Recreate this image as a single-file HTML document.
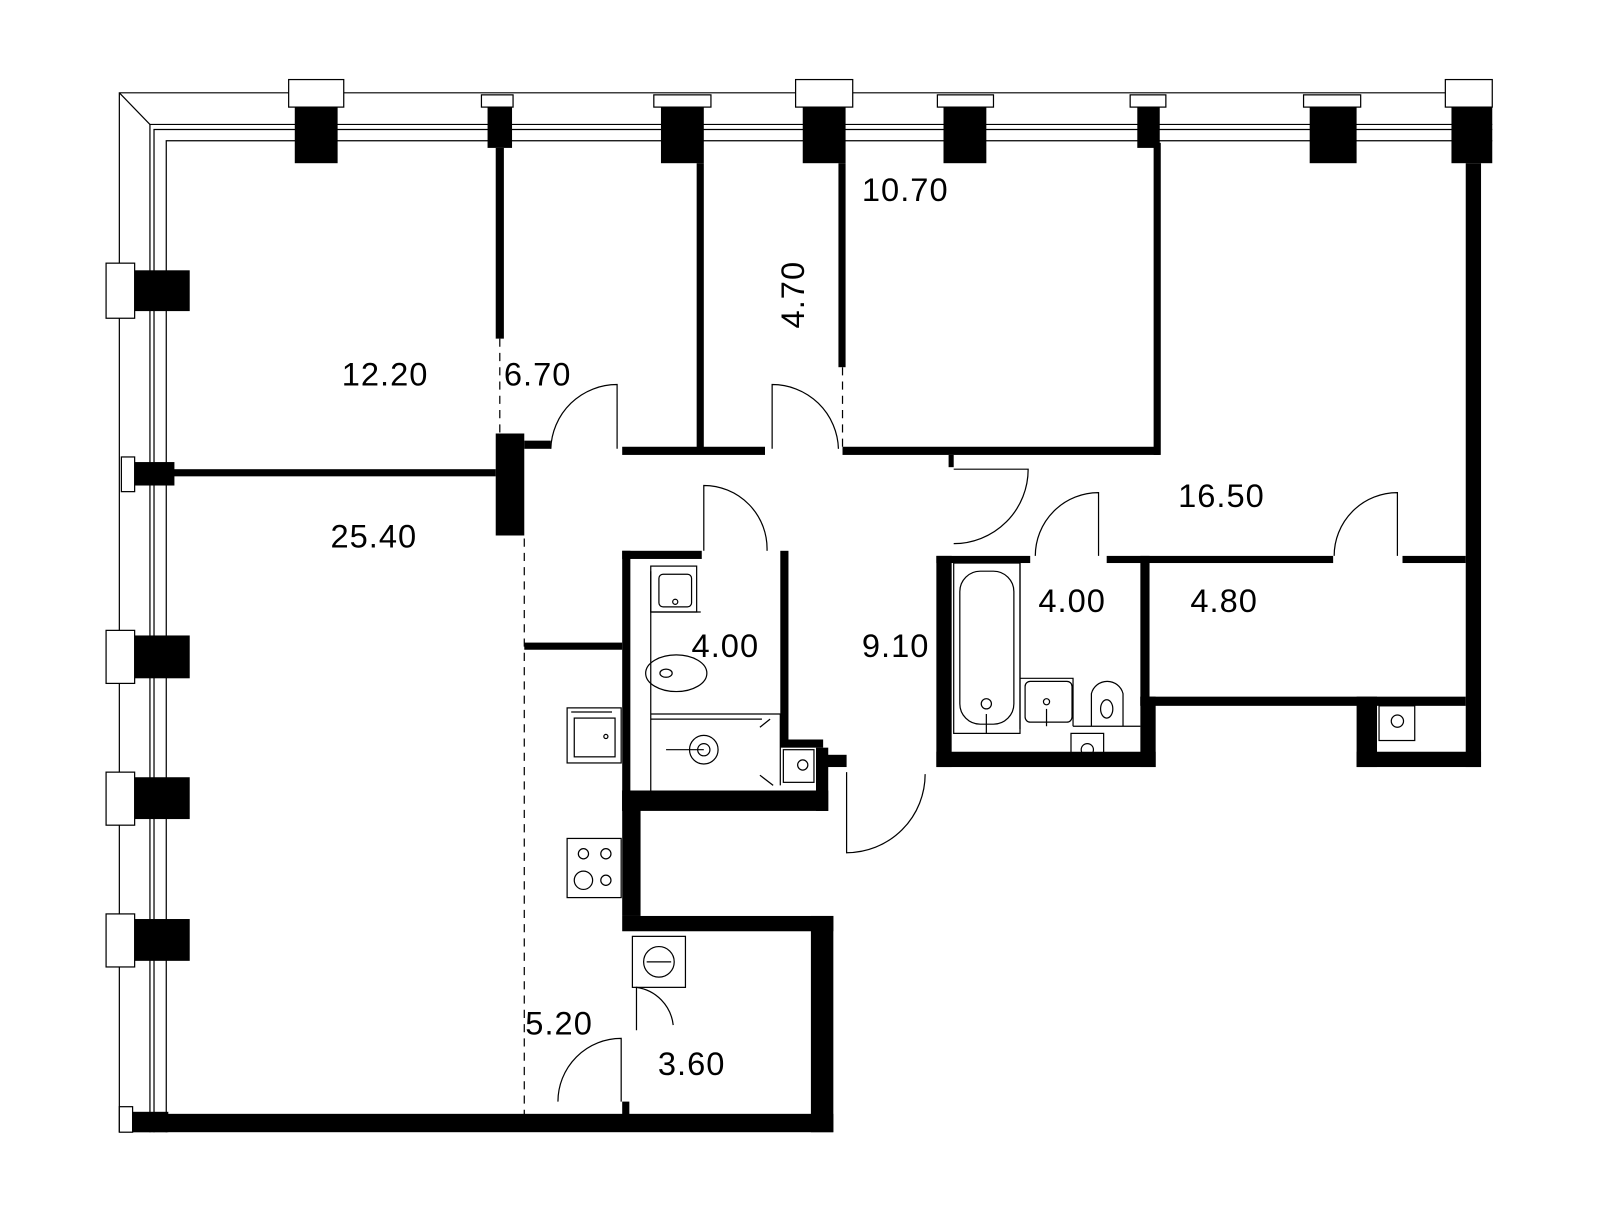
<!DOCTYPE html><html><head><style>body{margin:0;background:#fff}svg text{font-family:"Liberation Sans",sans-serif;font-size:32px;letter-spacing:1px;fill:#000}</style></head><body>
<svg width="1600" height="1215" viewBox="0 0 1600 1215" xmlns="http://www.w3.org/2000/svg">
<g transform="scale(1.02)">
<g fill="none" stroke="#000" stroke-width="1.2">
<path d="M117 1110V91H1463"/><path d="M147 1110V122H1463"/><path d="M151 1110V127H1463"/><path d="M163 1110V138H1463"/>
<path d="M117 91L147 122"/>
<path d="M514 528V1095" stroke-dasharray="8 6"/><path d="M490 332V425" stroke-dasharray="8 6"/><path d="M826 360V440" stroke-dasharray="8 6"/>
</g>
<g fill="#fff" stroke="#000" stroke-width="1.2">
<rect x="283" y="78" width="54" height="27"/><rect x="472" y="93" width="31" height="12"/><rect x="641" y="93" width="56" height="12"/><rect x="780" y="78" width="56" height="27"/><rect x="919" y="93" width="55" height="12"/><rect x="1108" y="93" width="35" height="12"/><rect x="1278" y="93" width="56" height="12"/><rect x="1417" y="78" width="46" height="27"/>
<rect x="104" y="258" width="28" height="54"/><rect x="119" y="448" width="13" height="34"/><rect x="104" y="618" width="28" height="52"/><rect x="104" y="757" width="28" height="52"/><rect x="104" y="896" width="28" height="52"/><rect x="117" y="1085" width="13" height="25"/>
</g>
<g fill="#000">
<rect x="289" y="105" width="42" height="55"/><rect x="478" y="105" width="24" height="40"/><rect x="648" y="105" width="42" height="55"/><rect x="787" y="105" width="42" height="55"/><rect x="925" y="105" width="42" height="55"/><rect x="1115" y="105" width="22" height="40"/><rect x="1284" y="105" width="46" height="55"/><rect x="1423" y="105" width="40" height="55"/>
<rect x="132" y="265" width="54" height="40"/><rect x="132" y="453" width="39" height="23"/><rect x="132" y="623" width="54" height="42"/><rect x="132" y="762" width="54" height="41"/><rect x="132" y="901" width="54" height="41"/><rect x="130" y="1090" width="35" height="20"/>
<rect x="486" y="145" width="8" height="187"/><rect x="486" y="425" width="28" height="100"/><rect x="165" y="460" width="321" height="7"/><rect x="514" y="432" width="26" height="8"/>
<rect x="683" y="160" width="7" height="283"/><rect x="610" y="438" width="140" height="8"/><rect x="826" y="438" width="311" height="8"/><rect x="822" y="160" width="7" height="200"/><rect x="1131" y="140" width="7" height="306"/>
<rect x="1437" y="160" width="15" height="592"/><rect x="930" y="446" width="5" height="12"/>
<rect x="130" y="1092" width="687" height="18"/><rect x="795" y="898" width="22" height="212"/><rect x="610" y="898" width="207" height="15"/>
<rect x="610" y="775" width="18" height="123"/><rect x="610" y="540" width="8" height="255"/><rect x="610" y="540" width="78" height="8"/><rect x="765" y="540" width="8" height="190"/>
<rect x="765" y="725" width="42" height="8"/><rect x="800" y="733" width="12" height="62"/><rect x="805" y="740" width="25" height="12"/><rect x="610" y="775" width="202" height="20"/>
<rect x="514" y="630" width="96" height="7"/><rect x="610" y="1080" width="7" height="15"/>
<rect x="918" y="545" width="15" height="207"/><rect x="918" y="545" width="92" height="7"/><rect x="1085" y="545" width="222" height="7"/><rect x="1375" y="545" width="62" height="7"/>
<rect x="918" y="737" width="215" height="15"/><rect x="1118" y="545" width="9" height="147"/><rect x="1118" y="683" width="319" height="9"/><rect x="1118" y="683" width="15" height="69"/>
<rect x="1330" y="683" width="20" height="69"/><rect x="1330" y="737" width="122" height="15"/>
</g>
<g fill="none" stroke="#000" stroke-width="1.2">
<path d="M540 440A65 65 0 0 1 605 377V440"/><path d="M757 440V377A65 65 0 0 1 822 440"/>
<path d="M935 533A73 73 0 0 0 1008 460H935"/><path d="M1015 545A62 62 0 0 1 1077 483V545"/><path d="M1308 545A62 62 0 0 1 1370 483V545"/>
<path d="M690 540V476A62 62 0 0 1 752 540"/><path d="M830 757V836A77 77 0 0 0 907 759"/>
<path d="M547 1080A62 62 0 0 1 609 1018V1080"/><path d="M624 1010V968A42 42 0 0 1 660 1005"/>
<rect x="638" y="555" width="45" height="45"/><rect x="646" y="563" width="32" height="32" rx="4"/><circle cx="662" cy="590" r="2.5"/>
<path d="M638 600H687M638 560V775M638 700H765V770M638 705H747"/><ellipse cx="663" cy="660" rx="30" ry="18"/><ellipse cx="653" cy="660" rx="6" ry="4"/>
<circle cx="690" cy="735" r="14"/><circle cx="690" cy="735" r="6"/><path d="M653 735H690"/><path d="M745 713L755 705M745 760L758 770"/>
<rect x="768" y="735" width="30" height="32"/><circle cx="787" cy="750" r="5"/>
<rect x="556" y="694" width="53" height="54"/><rect x="563" y="704" width="40" height="38"/><circle cx="594" cy="722" r="2"/><path d="M560 698H600"/>
<rect x="556" y="822" width="53" height="58"/><circle cx="572" cy="837" r="5"/><circle cx="594" cy="837" r="5"/><circle cx="572" cy="863" r="9"/><circle cx="594" cy="863" r="5"/>
<rect x="620" y="918" width="52" height="50"/><circle cx="646" cy="943" r="15"/><path d="M634 943H658"/>
<rect x="935" y="552" width="65" height="167"/><rect x="941" y="560" width="53" height="150" rx="20"/><circle cx="967" cy="690" r="5"/><path d="M967 700V719"/>
<path d="M1000 552V715M1000 665H1052V712M1052 712H1118"/><rect x="1005" y="668" width="46" height="40" rx="5"/><circle cx="1026" cy="688" r="3"/><path d="M1026 695V712"/>
<path d="M1070 712V680A16 16 0 0 1 1101 680V712"/><ellipse cx="1085" cy="695" rx="6" ry="9"/>
<rect x="1050" y="719" width="32" height="24"/><circle cx="1066" cy="735" r="6"/>
<rect x="1352" y="692" width="35" height="34"/><circle cx="1370" cy="707" r="6"/>
</g>
<text x="335" y="378">12.20</text><text x="494" y="378">6.70</text>
<text x="845" y="197">10.70</text><text x="324" y="537">25.40</text><text x="1155" y="497">16.50</text>
<text x="678" y="644">4.00</text><text x="845" y="644">9.10</text><text x="1018" y="600">4.00</text><text x="1167" y="600">4.80</text>
<text x="515" y="1014">5.20</text><text x="645" y="1054">3.60</text>
<text transform="translate(788,322) rotate(-90)">4.70</text>
</g>
</svg></body></html>
